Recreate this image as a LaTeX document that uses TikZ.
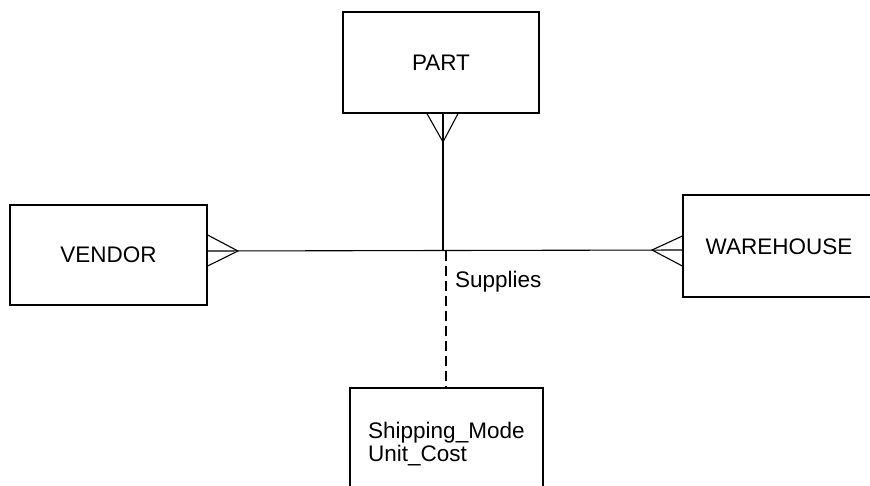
\documentclass[tikz,border=0pt]{standalone}
\usepackage{fontspec}
\setmainfont{Liberation Sans}
\begin{document}
\begin{tikzpicture}[x=1pt,y=-1pt,
  entity/.style={draw,line width=1.3pt,minimum width=196pt,minimum height=101pt,inner sep=0pt,font=\fontsize{22.5}{23}\selectfont},
  rel/.style={line width=1.1pt},
  crow/.style={line width=1.1pt},
  lbl/.style={font=\fontsize{22.5}{23}\selectfont,inner sep=0pt}]
\useasboundingbox (0,0) rectangle (870,485);
\begin{scope}
\clip (0,0) rectangle (870,485);
\node[entity] (part) at (441,62.5) {PART};
\node[entity,minimum width=197pt,minimum height=100pt] (vendor) at (108.5,255) {VENDOR};
\node[entity,minimum width=197pt,minimum height=102pt] (warehouse) at (781.5,246) {};
\node[lbl] (whtext) at (779,247) {WAREHOUSE};
\node[entity,minimum width=193pt,minimum height=102pt] (attr) at (446.5,439) {};
\node[lbl,anchor=west,align=left] (attrtext) at (368,444) {Shipping\_Mode\\Unit\_Cost};
\node[lbl,anchor=west] (supplies) at (455,282) {Supplies};
% crow's foot apexes
\coordinate (pa) at (443,142);
\coordinate (va) at (238,251);
\coordinate (wa) at (652,250);
\coordinate (junc) at (443,251);
\coordinate (djunc) at (446,251);
% relationship lines
\draw[rel] (part.south -| pa) -- (junc);
\draw[rel] (vendor.east |- va) -- (wa -| warehouse.west);
\draw[rel,dash pattern=on 10pt off 5pt] (djunc) -- (attr.north -| djunc);
% crow's feet
\draw[crow] ([xshift=-16pt]part.south -| pa) -- (pa) -- ([xshift=15pt]part.south -| pa);
\draw[crow] ([yshift=-15pt]vendor.east |- va) -- (va) -- ([yshift=16pt]vendor.east |- va);
\draw[crow] ([yshift=-16pt]warehouse.west |- wa) -- (wa) -- ([yshift=14pt]warehouse.west |- wa);
\end{scope}
\end{tikzpicture}
\end{document}
